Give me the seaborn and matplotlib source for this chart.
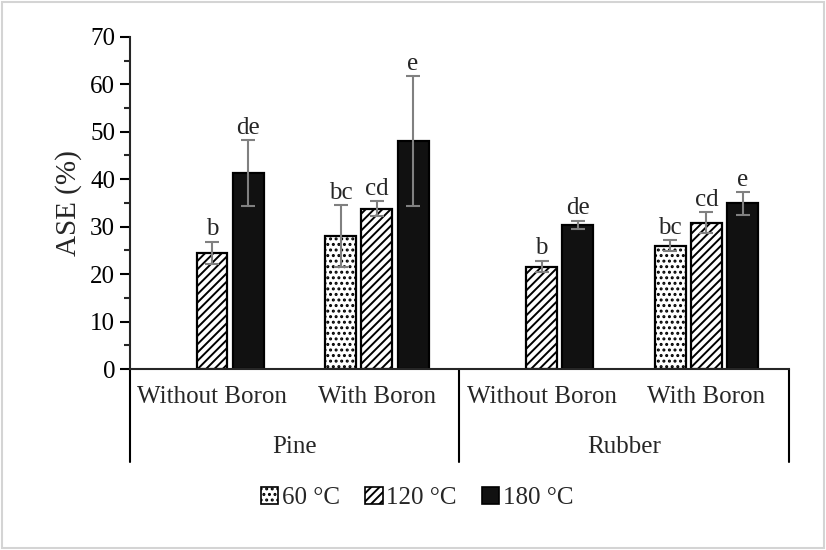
import numpy as np
import pandas as pd
import seaborn as sns
import matplotlib.pyplot as plt
from matplotlib.patches import Patch, Rectangle

# categories: wood species x treatment
woods = ["Pine", "Rubber"]
treatments = ["Without Boron", "With Boron"]
temps = ["60 °C", "120 °C", "180 °C"]

# values per temperature, order: Pine-Without, Pine-With, Rubber-Without, Rubber-With
ase_60 = [np.nan, 28.0, np.nan, 26.0]
ase_120 = [24.5, 33.8, 21.6, 30.8]
ase_180 = [41.3, 48.0, 30.4, 34.9]
err_60 = [np.nan, 6.5, np.nan, 1.1]
err_120 = [2.3, 1.6, 1.2, 2.2]
err_180 = [6.9, 13.7, 0.9, 2.4]
letters_60 = ["", "bc", "", "bc"]
letters_120 = ["b", "cd", "b", "cd"]
letters_180 = ["de", "e", "de", "e"]

cats = [w + "|" + t for w in woods for t in treatments]
values = [ase_60, ase_120, ase_180]
errors = [err_60, err_120, err_180]
letters = [letters_60, letters_120, letters_180]

rows = []
for temp, vals in zip(temps, values):
    for cat, v in zip(cats, vals):
        if not np.isnan(v):
            rows.append({"cat": cat, "temp": temp, "ase": v})
df = pd.DataFrame(rows)

sns.set_style("ticks")
plt.rcParams["font.family"] = ["Liberation Serif", "DejaVu Serif"]
plt.rcParams["hatch.linewidth"] = 1.4

fig = plt.figure(figsize=(8.26, 5.5), dpi=100)
ax = fig.add_axes([0.157, 0.329, 0.798, 0.604])

fills = ["white", "white", "#111111"]
hatches = ["...", "////", ""]

sns.barplot(data=df, x="cat", y="ase", hue="temp", order=cats, hue_order=temps,
            palette=fills, width=0.66, gap=0.15, edgecolor="black", linewidth=1.6,
            errorbar=None, legend=False, ax=ax)

bar_groups = list(ax.containers)
for i, cont in enumerate(bar_groups):
    for bar in cont:
        cx = bar.get_x() + bar.get_width() / 2
        k = int(round(cx))
        bar.set_hatch(hatches[i])
        h = values[i][k]
        e = errors[i][k]
        ax.errorbar(cx, h, yerr=e, color="#808080", lw=1.5, capsize=5, capthick=1.5)
        ax.annotate(letters[i][k], (cx, h + e), xytext=(0, 1), textcoords="offset points",
                    ha="center", va="bottom", fontsize=18)

ax.set_ylim(0, 70)
ax.set_xlim(-0.5, 3.5)
ax.set_yticks(range(0, 71, 10))
ax.set_yticks(range(5, 70, 10), minor=True)
ax.tick_params(axis="y", which="major", direction="out", length=7, width=1.5, labelsize=18, colors="black")
ax.tick_params(axis="y", which="minor", direction="out", length=4, width=1.5)
ax.set_xticks(range(len(cats)))
ax.set_xticklabels([c.split("|")[1] for c in cats], fontsize=18)
ax.tick_params(axis="x", length=0, pad=12)
ax.set_xlabel("")
ax.set_ylabel("ASE (%)", fontsize=21, labelpad=6)
sns.despine(ax=ax)
ax.spines["left"].set_linewidth(1.5)
ax.spines["bottom"].set_linewidth(1.5)
ax.grid(False)

# group separators and wood labels
for x in [-0.5, 1.5, 3.5]:
    ax.plot([x, x], [0, -0.28], transform=ax.get_xaxis_transform(), color="black",
            lw=1.5, clip_on=False)
for j, w in enumerate(woods):
    ax.text(2 * j + 0.5, -0.235, w, transform=ax.get_xaxis_transform(),
            ha="center", va="center", fontsize=18)

handles = [Patch(facecolor=fills[i], edgecolor="black", hatch=hatches[i], lw=1.2)
           for i in range(3)]
fig.legend(handles, temps, loc="center", bbox_to_anchor=(0.505, 0.095), ncol=3,
           frameon=False, fontsize=18, handlelength=0.7, handleheight=0.7,
           handletextpad=0.15, columnspacing=1.0)

fig.patches.append(Rectangle((0.003, 0.004), 0.994, 0.992, transform=fig.transFigure,
                             fill=False, edgecolor="#d4d4d4", lw=1.5))

fig.savefig("out.png", dpi=100)
